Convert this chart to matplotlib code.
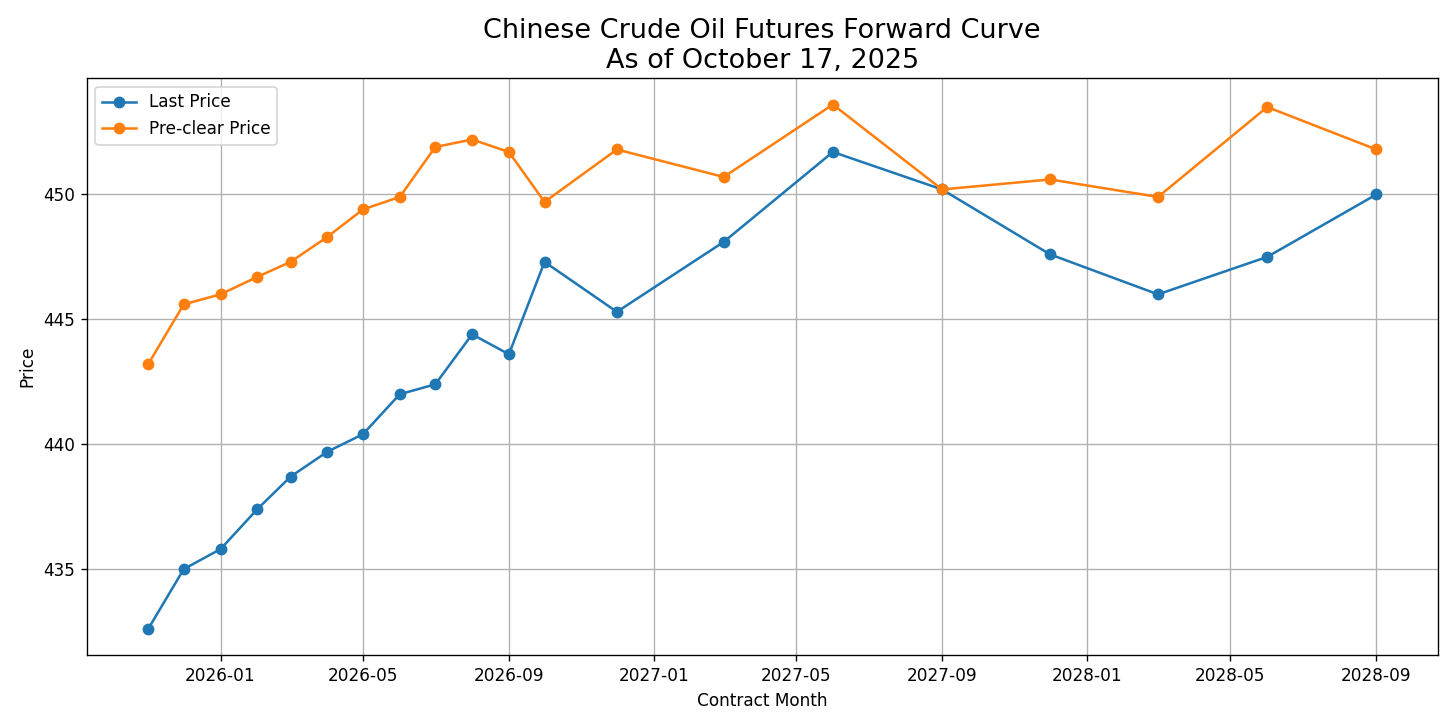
import pandas as pd
import matplotlib.pyplot as plt

# 계약월 (contract months)
contract_months = ['2025-11', '2025-12', '2026-01', '2026-02', '2026-03', '2026-04',
                   '2026-05', '2026-06', '2026-07', '2026-08', '2026-09', '2026-10',
                   '2026-12', '2027-03', '2027-06', '2027-09', '2027-12', '2028-03',
                   '2028-06', '2028-09']

last_price = [432.6, 435.0, 435.8, 437.4, 438.7, 439.7, 440.4, 442.0, 442.4, 444.4,
              443.6, 447.3, 445.3, 448.1, 451.7, 450.2, 447.6, 446.0, 447.5, 450.0]

preclear_price = [443.2, 445.6, 446.0, 446.7, 447.3, 448.3, 449.4, 449.9, 451.9, 452.2,
                  451.7, 449.7, 451.8, 450.7, 453.6, 450.2, 450.6, 449.9, 453.5, 451.8]

dates = pd.to_datetime(contract_months)

DPI = 1456 / 12
fig = plt.figure(figsize=(12, 6), dpi=DPI)
plt.plot(dates, last_price, marker='o', label='Last Price')
plt.plot(dates, preclear_price, marker='o', label='Pre-clear Price')
plt.title('Chinese Crude Oil Futures Forward Curve\nAs of October 17, 2025', fontsize=16)
plt.xlabel('Contract Month')
plt.ylabel('Price')
plt.grid(True)
plt.legend(loc='upper left')
plt.tight_layout()
plt.savefig('out.png', dpi=DPI)
